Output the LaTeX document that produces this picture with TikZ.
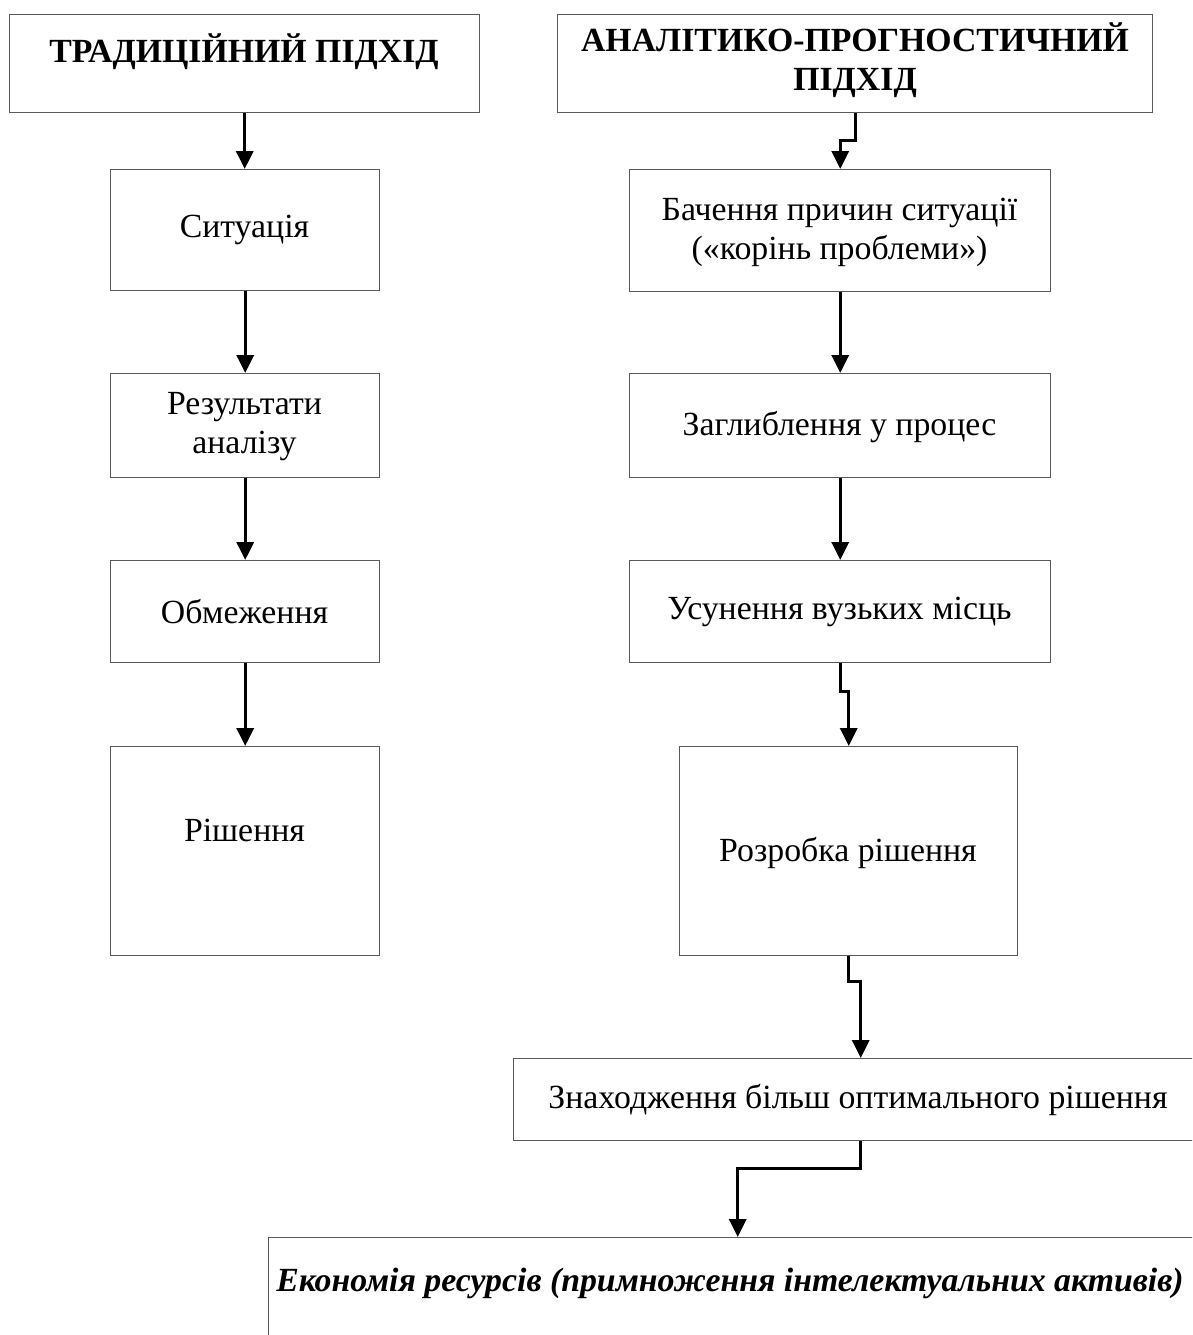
\documentclass[tikz,border=0pt]{standalone}
\usepackage{fontspec}
\setmainfont{Liberation Serif}
\usetikzlibrary{arrows.meta}
\begin{document}
\begin{tikzpicture}[x=1pt,y=-1pt,
  box/.style={draw=black!65, line width=1.4pt, anchor=north west, inner sep=0pt},
  txt/.style={font=\fontsize{33.8}{39}\selectfont, align=center, inner sep=0pt},
  arr/.style={line width=3.2pt, -{Triangle[width=17pt,length=18pt]}}]
\clip (0,0) rectangle (1192,1335);
\fill[white] (0,0) rectangle (1192,1335);
% left column
\node[box, minimum width=470pt, minimum height=98pt] (T1) at (9,14) {};
\node[txt, font=\fontsize{33.8}{39}\selectfont\bfseries] (T1t) at (244,52) {ТРАДИЦІЙНИЙ ПІДХІД};
\node[box, minimum width=269pt, minimum height=121pt] (L1) at (110,169) {};
\node[txt] (L1t) at (244.5,230) {Ситуація};
\node[box, minimum width=269pt, minimum height=104pt] (L2) at (110,373) {};
\node[txt] (L2t) at (244.5,427) {Результати\\аналізу};
\node[box, minimum width=269pt, minimum height=102pt] (L3) at (110,560) {};
\node[txt] (L3t) at (244.5,612) {Обмеження};
\node[box, minimum width=269pt, minimum height=209pt] (L4) at (110,746) {};
\node[txt] (L4t) at (244.5,830) {Рішення};
% right column
\node[box, minimum width=595pt, minimum height=98pt] (A1) at (557,14) {};
\node[txt, font=\fontsize{33.8}{39}\selectfont\bfseries] (A1t) at (855,60) {АНАЛІТИКО-ПРОГНОСТИЧНИЙ\\ПІДХІД};
\node[box, minimum width=421pt, minimum height=122pt] (R1) at (629,169) {};
\node[txt] (R1t) at (839.5,232) {Бачення причин ситуації\\(«корінь проблеми»)};
\node[box, minimum width=421pt, minimum height=104pt] (R2) at (629,373) {};
\node[txt] (R2t) at (839.5,427) {Заглиблення у процес};
\node[box, minimum width=421pt, minimum height=102pt] (R3) at (629,560) {};
\node[txt] (R3t) at (839.5,612) {Усунення вузьких місць};
\node[box, minimum width=338pt, minimum height=209pt] (R4) at (679,746) {};
\node[txt] (R4t) at (848,853) {Розробка рішення};
\node[box, minimum width=694pt, minimum height=82pt] (R5) at (513,1058) {};
\node[txt] (R5t) at (858,1100) {Знаходження більш оптимального рішення};
\node[box, minimum width=938pt, minimum height=120pt] (R6) at (268,1237) {};
\node[txt, font=\fontsize{33.8}{39}\selectfont\bfseries\itshape] (R6t) at (730,1283) {Економія ресурсів (примноження інтелектуальних активів)};
% connectors
\draw[arr] (T1.south) -- (T1.south |- L1.north);
\draw[arr] (L1.south) -- (L2.north);
\draw[arr] (L2.south) -- (L3.north);
\draw[arr] (L3.south) -- (L4.north);
\draw[arr] (A1.south) -- ++(0,27) -| (R1.north);
\draw[arr] (R1.south) -- (R2.north);
\draw[arr] (R2.south) -- (R3.north);
\draw[arr] (R3.south) -- ++(0,28) -| (R4.north);
\draw[arr] (R4.south) -- ++(0,25) -| (R5.north);
\draw[arr] (R5.south) -- ++(0,27) -| (R6.north);
\end{tikzpicture}
\end{document}
